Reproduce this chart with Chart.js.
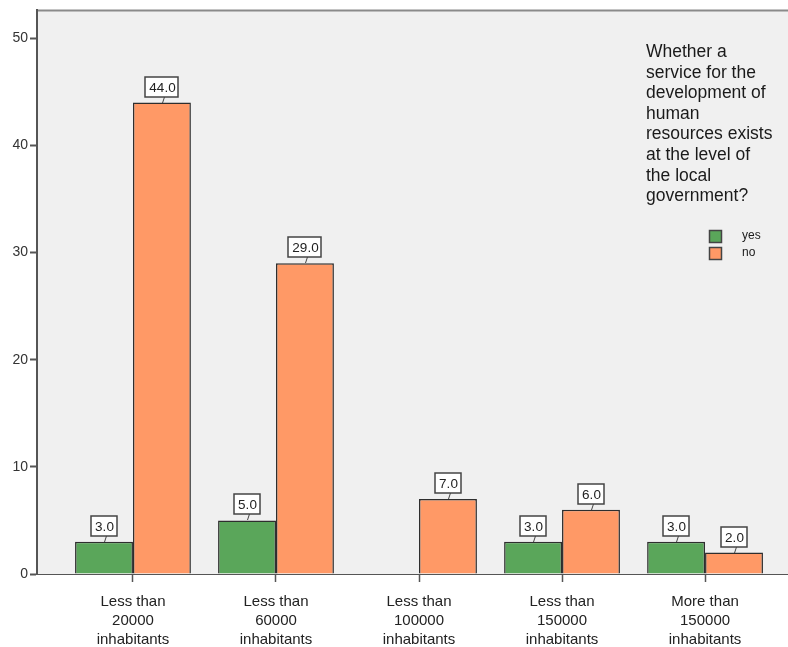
<!DOCTYPE html>
<html>
<head>
<meta charset="utf-8">
<script src="https://cdn.jsdelivr.net/npm/chart.js@4"></script>
<style>
  html, body { margin: 0; padding: 0; background: #fff; overflow: hidden; }
  #wrap { width: 788px; height: 647px; }
</style>
</head>
<body>
<div id="wrap"><canvas id="popChart" width="788" height="647"></canvas></div>
<script>
// categories (population size) and counts per answer
const categories = [
    ['Less than', '20000', 'inhabitants'],
    ['Less than', '60000', 'inhabitants'],
    ['Less than', '100000', 'inhabitants'],
    ['Less than', '150000', 'inhabitants'],
    ['More than', '150000', 'inhabitants']
];
const yesCounts = [3, 5, null, 3, 3];
const noCounts = [44, 29, 7, 6, 2];
const yTicks = [0, 10, 20, 30, 40, 50];
const legendTitle = ['Whether a', 'service for the', 'development of', 'human',
    'resources exists', 'at the level of', 'the local', 'government?'];

const FONT = '"Liberation Sans", Arial, sans-serif';

function points(arr) {
    return arr.map((v, i) => ({ x: i, y: v }));
}

// gray plot background + top frame line
const plotBg = {
    id: 'plotBg',
    beforeDraw(chart) {
        const { ctx, chartArea: a } = chart;
        ctx.save();
        ctx.fillStyle = '#f0f0f0';
        ctx.fillRect(a.left, a.top, a.right - a.left, a.bottom - a.top);
        ctx.strokeStyle = '#8a8a8a';
        ctx.lineWidth = 2;
        ctx.beginPath();
        ctx.moveTo(a.left, a.top);
        ctx.lineTo(a.right, a.top);
        ctx.stroke();
        ctx.restore();
    }
};

// boxed value labels above each bar
const valueBoxes = {
    id: 'valueBoxes',
    afterDatasetsDraw(chart) {
        const ctx = chart.ctx;
        ctx.save();
        ctx.font = '13.5px ' + FONT;
        ctx.textAlign = 'center';
        ctx.textBaseline = 'middle';
        chart.data.datasets.forEach((ds, di) => {
            const meta = chart.getDatasetMeta(di);
            meta.data.forEach((bar, i) => {
                const v = ds.data[i].y;
                if (v === null) return;
                const txt = v.toFixed(1);
                const w = Math.round(ctx.measureText(txt).width) + 7;
                const h = 20;
                const cx = Math.round(bar.x);
                const bottom = Math.round(bar.y) - 6;
                const left = cx - Math.round(w / 2);
                ctx.fillStyle = '#fff';
                ctx.fillRect(left, bottom - h, w, h);
                ctx.strokeStyle = '#444';
                ctx.lineWidth = 1.5;
                ctx.strokeRect(left, bottom - h, w, h);
                ctx.lineWidth = 1;
                ctx.beginPath();
                ctx.moveTo(cx + 2.5, bottom);
                ctx.lineTo(cx + 0.5, Math.round(bar.y));
                ctx.stroke();
                ctx.fillStyle = '#222';
                ctx.fillText(txt, cx + 0.5, bottom - h / 2 + 1);
            });
        });
        ctx.restore();
    }
};

// legend with wrapped title in the upper right corner
const cornerLegend = {
    id: 'cornerLegend',
    afterDraw(chart) {
        const ctx = chart.ctx;
        ctx.save();
        ctx.fillStyle = '#1a1a1a';
        ctx.font = '17.5px ' + FONT;
        ctx.textAlign = 'left';
        ctx.textBaseline = 'alphabetic';
        legendTitle.forEach((line, i) => {
            ctx.fillText(line, 646, 57 + i * 20.6);
        });
        ctx.font = '12px ' + FONT;
        ctx.textBaseline = 'middle';
        chart.data.datasets.forEach((ds, i) => {
            const y = 230 + i * 17;
            ctx.fillStyle = ds.backgroundColor;
            ctx.fillRect(709.5, y + 0.5, 12, 12);
            ctx.strokeStyle = '#444';
            ctx.lineWidth = 1.5;
            ctx.strokeRect(709.5, y + 0.5, 12, 12);
            ctx.fillStyle = '#1a1a1a';
            ctx.fillText(ds.label, 742, y + 6);
        });
        ctx.restore();
    }
};

new Chart(document.getElementById('popChart'), {
    type: 'bar',
    data: {
        datasets: [{
            label: 'yes',
            data: points(yesCounts),
            backgroundColor: '#5aa65a',
            borderColor: '#2e2e2e',
            borderWidth: 1.5
        }, {
            label: 'no',
            data: points(noCounts),
            backgroundColor: '#ff9966',
            borderColor: '#2e2e2e',
            borderWidth: 1.5
        }]
    },
    plugins: [plotBg, valueBoxes, cornerLegend],
    options: {
        responsive: false,
        animation: false,
        devicePixelRatio: 1,
        barPercentage: 1.0,
        categoryPercentage: 0.81,
        layout: { padding: { top: 10, right: 0, left: 0, bottom: 0 } },
        plugins: {
            legend: { display: false },
            tooltip: { enabled: false }
        },
        scales: {
            x: {
                type: 'linear',
                offset: false,
                min: -0.671,
                max: 4.58,
                afterBuildTicks: axis => { axis.ticks = categories.map((c, i) => ({ value: i })); },
                afterFit: axis => { axis.height = 73; },
                ticks: {
                    autoSkip: false,
                    maxRotation: 0,
                    padding: 10,
                    color: '#222',
                    font: { family: FONT, size: 15, lineHeight: 1.27 },
                    callback: v => categories[v]
                },
                grid: { offset: false, drawOnChartArea: false, tickLength: 8, tickColor: '#555', tickWidth: 1.5 },
                border: { color: '#555', width: 1 }
            },
            y: {
                min: 0,
                max: 52.6,
                afterBuildTicks: axis => { axis.ticks = yTicks.map(v => ({ value: v })); },
                afterFit: axis => { axis.width = 37; },
                ticks: {
                    padding: 2,
                    color: '#333',
                    font: { family: FONT, size: 14 }
                },
                grid: { drawOnChartArea: false, tickLength: 7, tickColor: '#555', tickWidth: 2 },
                border: { color: '#555', width: 2 }
            }
        }
    }
});
</script>
</body>
</html>
